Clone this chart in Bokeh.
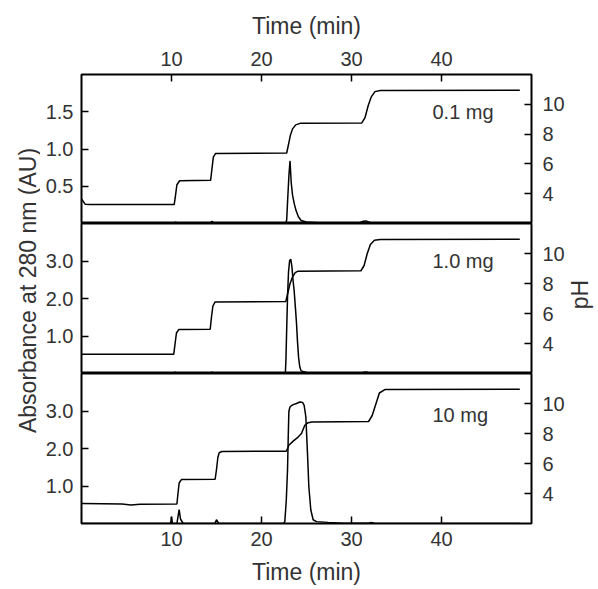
from math import pi
from bokeh.plotting import figure
from bokeh.models import LinearAxis, Range1d, FixedTicker, Label, NumeralTickFormatter
from bokeh.layouts import column, row
from bokeh.embed import file_html
from bokeh.resources import INLINE

# ---------------- data ----------------
time_ticks = [10, 20, 30, 40]
ph_ticks = [4, 6, 8, 10]
abs_ticks_top = [0.5, 1.0, 1.5]
abs_ticks_low = [1.0, 2.0, 3.0]

# 0.1 mg
t_abs_01 = [0, 10.2, 10.45, 10.7, 14.3, 14.5, 14.75, 22.7, 22.8, 22.9, 23.05, 23.17, 23.3,
            23.45, 23.65, 23.85, 24.1, 24.4, 25.0, 26.3, 30.9, 31.3, 31.6, 31.9, 32.3, 48.7]
abs_01 = [0, 0, 0.02, 0, 0, 0.03, 0, 0, 0.05, 0.3, 0.65, 0.84, 0.55,
          0.38, 0.26, 0.17, 0.09, 0.04, 0.02, 0.01, 0.01, 0.03, 0.035, 0.02, 0, 0]
t_ph_01 = [0, 0.4, 1.0, 10.3, 10.45, 10.6, 10.9, 14.35, 14.5, 14.65, 14.9, 22.8, 23.0, 23.2,
           23.45, 23.8, 24.3, 31.15, 31.5, 31.85, 32.2, 32.6, 33.2, 48.7]
ph_01 = [3.65, 3.3, 3.27, 3.27, 3.9, 4.6, 4.87, 4.9, 5.7, 6.45, 6.7, 6.73, 7.3, 7.9,
         8.35, 8.62, 8.72, 8.75, 9.1, 9.9, 10.5, 10.85, 10.92, 10.95]

# 1.0 mg
t_abs_10 = [0, 10.2, 10.42, 10.65, 14.3, 14.5, 14.75, 22.65, 22.72, 22.8, 22.9, 23.0, 23.12,
            23.25, 23.38, 23.5, 23.63, 23.77, 23.9, 24.0, 24.12, 24.25, 24.4, 25.0, 26.0,
            30.9, 31.3, 31.6, 31.9, 32.3, 48.7]
abs_10 = [0, 0, 0.04, 0, 0, 0.04, 0, 0, 0.4, 1.2, 2.1, 2.7, 3.0,
          3.05, 2.85, 2.5, 2.2, 1.75, 1.3, 0.85, 0.43, 0.18, 0.07, 0.03, 0.015,
          0.01, 0.03, 0.04, 0.02, 0, 0]
t_ph_10 = [0, 10.25, 10.4, 10.55, 10.8, 14.3, 14.45, 14.6, 14.85, 22.7, 22.9, 23.15, 23.45,
           23.75, 24.05, 31.05, 31.4, 31.75, 32.1, 32.55, 33.2, 48.7]
ph_10 = [3.29, 3.29, 4.0, 4.7, 4.93, 4.95, 5.8, 6.5, 6.77, 6.8, 7.3, 7.95, 8.45,
         8.72, 8.82, 8.85, 9.2, 10.0, 10.6, 10.88, 10.93, 10.95]

# 10 mg
t_abs_100 = [0, 9.9, 10.0, 10.1, 10.6, 10.85, 11.0, 11.3, 14.8, 15.0, 15.25, 22.45, 22.59,
             22.75, 22.89, 22.97, 23.04, 23.15, 23.26, 23.52, 23.89, 24.26, 24.56, 24.74,
             24.93, 25.11, 25.26, 25.48, 25.74, 26.11, 27.4, 29.0, 31.9, 32.2, 32.6, 48.7]
abs_100 = [0, 0, 0.18, 0, 0, 0.37, 0.12, 0, 0, 0.1, 0, 0, 0.05,
           0.6, 1.42, 2.3, 2.98, 3.1, 3.13, 3.17, 3.2, 3.24, 3.23, 3.15,
           2.84, 1.87, 0.98, 0.36, 0.1, 0.05, 0.03, 0.01, 0.01, 0.03, 0, 0]
t_ph_100 = [0, 4.5, 5.5, 6.5, 10.6, 10.72, 10.85, 11.1, 14.85, 15.0, 15.15, 15.3, 15.6, 22.75,
            22.9, 23.04, 23.52, 24.07, 24.44, 24.81, 25.19, 25.6, 31.9, 32.3, 32.6, 33.1,
            33.7, 48.7]
ph_100 = [3.33, 3.3, 3.24, 3.29, 3.3, 4.0, 4.7, 4.93, 4.95, 5.6, 6.4, 6.72, 6.8, 6.82,
          7.0, 7.22, 7.49, 7.76, 8.0, 8.55, 8.72, 8.77, 8.8, 9.2, 9.77, 10.7,
          10.93, 10.95]

amounts = ["0.1 mg", "1.0 mg", "10 mg"]
y_title = "Absorbance at 280 nm (AU)"
ph_title = "pH"
x_title = "Time (min)"

# ---------------- styling ----------------
FONT = "Liberation Sans"
TXT = "#333333"
TICK_FS = "20px"
TITLE_FS = "23px"
SIDE_L = 40
SIDE_R = 30
BL, BR = 41, 36
BT, BB = 74, 66
FH = [149, 150, 150]
FW = 450
W = BL + FW + BR
H = BT + sum(FH) + BB

x_range = Range1d(0, 50)


def style_axis(ax, ticks, standoff):
    ax.ticker = FixedTicker(ticks=ticks)
    ax.axis_line_color = None
    ax.major_tick_in = 7
    ax.major_tick_out = 0
    ax.major_tick_line_width = 1.5
    ax.major_tick_line_color = "black"
    ax.minor_tick_line_color = None
    ax.major_label_text_font = FONT
    ax.major_label_text_font_size = TICK_FS
    ax.major_label_text_color = TXT
    ax.major_label_standoff = standoff
    ax.axis_label_text_font = FONT
    ax.axis_label_text_font_size = TITLE_FS
    ax.axis_label_text_font_style = "normal"
    ax.axis_label_text_color = TXT


def panel(i, t_abs, a, t_ph, ph, y_end, yticks, top=False, bottom=False, label_y=1.5):
    h = FH[i] + (BT if top else 0) + (BB if bottom else 0)
    p = figure(width=W, height=h, x_range=x_range, y_range=Range1d(0, y_end),
               x_axis_location=None, y_axis_location=None,
               output_backend="svg", toolbar_location=None,
               min_border_left=BL, min_border_right=BR,
               min_border_top=BT if top else 0, min_border_bottom=BB if bottom else 0,
               outline_line_color="black", outline_line_width=2,
               background_fill_color="white", border_fill_color="white")
    p.xgrid.visible = False
    p.ygrid.visible = False
    p.extra_y_ranges = {"ph": Range1d(2, 12)}

    la = LinearAxis(formatter=NumeralTickFormatter(format="0.0"))
    style_axis(la, yticks, 8)
    p.add_layout(la, "left")

    ra = LinearAxis(y_range_name="ph")
    style_axis(ra, ph_ticks, 11)
    p.add_layout(ra, "right")

    if top:
        ta = LinearAxis(axis_label=x_title)
        style_axis(ta, time_ticks, 9)
        ta.axis_label_standoff = 10
        p.add_layout(ta, "above")
    if bottom:
        ba = LinearAxis(axis_label=x_title)
        style_axis(ba, time_ticks, 8)
        ba.axis_label_standoff = 10
        p.add_layout(ba, "below")

    p.line(t_abs, a, line_color="black", line_width=1.5)
    p.line(t_ph, ph, line_color="black", line_width=1.5, y_range_name="ph")

    p.add_layout(Label(x=39, y=label_y, text=amounts[i], text_align="left",
                       text_baseline="middle", text_font=FONT, text_font_size="20px",
                       text_color=TXT))
    return p


def side(width, text, x_px, y_px):
    s = figure(width=width, height=H, x_range=Range1d(0, width), y_range=Range1d(0, H),
               x_axis_location=None, y_axis_location=None,
               output_backend="svg", toolbar_location=None,
               min_border_left=0, min_border_right=0, min_border_top=0, min_border_bottom=0,
               outline_line_color=None, background_fill_color="white",
               border_fill_color="white")
    s.xgrid.visible = False
    s.ygrid.visible = False
    s.add_layout(Label(x=x_px, y=H - y_px, text=text, angle=pi / 2, text_align="center",
                       text_baseline="middle", text_font=FONT, text_font_size=TITLE_FS,
                       text_color=TXT))
    return s


p1 = panel(0, t_abs_01, abs_01, t_ph_01, ph_01, 2.0, abs_ticks_top, top=True, label_y=1.5)
p2 = panel(1, t_abs_10, abs_10, t_ph_10, ph_10, 4.0, abs_ticks_low, label_y=3.0)
p3 = panel(2, t_abs_100, abs_100, t_ph_100, ph_100, 4.0, abs_ticks_low, bottom=True,
           label_y=2.9)

left = side(SIDE_L, y_title, 27, 290)
right = side(SIDE_R, ph_title, 12, 294)

layout = row(left, column(p1, p2, p3, spacing=0), right, spacing=0)
open("out.html", "w").write(file_html(layout, INLINE))
